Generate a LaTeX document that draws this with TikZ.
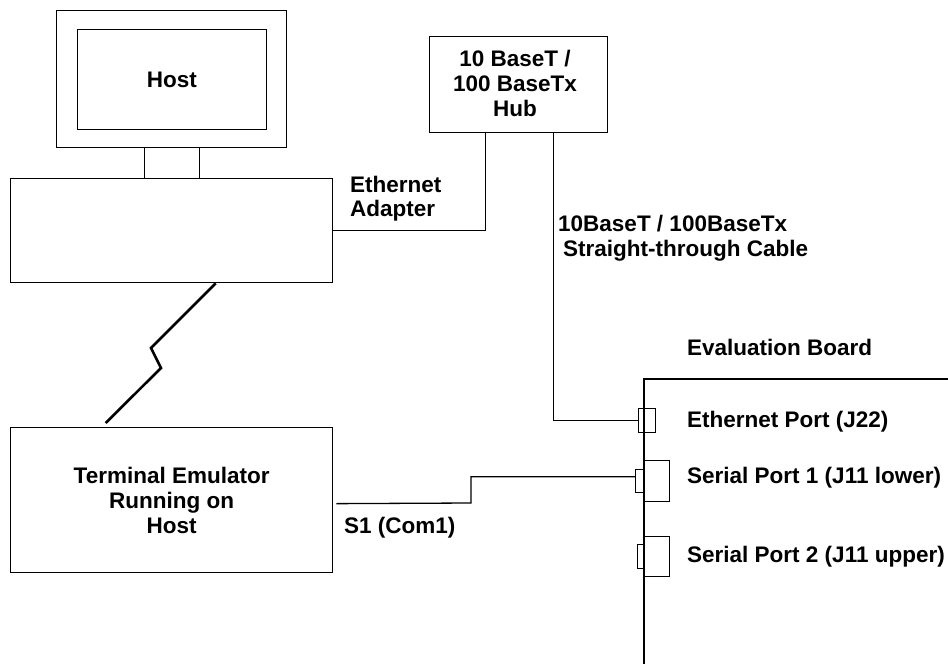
\documentclass[tikz,border=0pt]{standalone}
\usepackage{fontspec}
\setmainfont{Liberation Sans}
\usetikzlibrary{calc}
\begin{document}
\begin{tikzpicture}[x=1pt,y=-1pt,
  lbl/.style={font=\fontsize{22.5}{24}\selectfont\bfseries, inner sep=0pt},
  box/.style={draw, line width=1.3pt, inner sep=0pt, anchor=north west, align=center, font=\fontsize{22.5}{25}\selectfont\bfseries},
  wire/.style={line width=1.3pt},
  bolt/.style={line width=2.6pt, line join=miter}]
\useasboundingbox (0,0) rectangle (948,664);
% host computer
\node[box, minimum width=230pt, minimum height=137pt] (monitor) at (56,10) {};
\node[box, minimum width=189.5pt, minimum height=100pt] (screen) at (76.5,29) {Host};
\node[box, minimum width=55.5pt, minimum height=31pt] (neck) at (143.5,147) {};
\node[box, minimum width=322pt, minimum height=104pt] (base) at (10,178) {};
% hub
\node[box, minimum width=178pt, minimum height=96pt] (hub) at (429,36) {};
\node[lbl, align=center, font=\fontsize{22.5}{25}\selectfont\bfseries] (hubtext) at (515,83) {10 BaseT /\\100 BaseTx\\Hub};
% terminal
\node[box, minimum width=322pt, minimum height=145pt] (term) at (10,427) {Terminal Emulator\\Running on\\Host};
% evaluation board
\coordinate (boardbot) at (644,664);
\coordinate (boardcorner) at (644,379);
\coordinate (boardright) at (948,379);
\draw[wire] (boardbot) -- (boardcorner) -- (boardright);
\node[box, minimum width=17pt, minimum height=24pt] (eport) at (638,408) {};
\node[box, minimum width=25pt, minimum height=41pt] (s1big) at (644,460) {};
\node[box, minimum width=9pt, minimum height=23pt] (s1small) at (635,469) {};
\node[box, minimum width=25pt, minimum height=40pt] (s2big) at (644,536) {};
\node[box, minimum width=7pt, minimum height=24pt] (s2small) at (637,544) {};
% labels (base anchor of a multi-line node = last line's baseline)
\node[lbl, anchor=base west, align=left] (ethadapter) at (350,216) {Ethernet\\Adapter};
\node[lbl, anchor=base west, align=left, font=\fontsize{22.5}{25}\selectfont\bfseries] (cable) at (558,256) {10BaseT / 100BaseTx\\\hspace*{5pt}Straight-through Cable};
\node[lbl, anchor=base west] (evalboard) at (687,355) {Evaluation Board};
\node[lbl, anchor=base west] (ethport) at (687,427) {Ethernet Port (J22)};
\node[lbl, anchor=base west] (ser1) at (687,483) {Serial Port 1 (J11 lower)};
\node[lbl, anchor=base west] (ser2) at (687,562) {Serial Port 2 (J11 upper)};
\node[lbl, anchor=base west] (s1com) at (344,533) {S1 (Com1)};
% connectors
\draw[wire] (base.east) -| ($(hub.south)+(-33,0)$);
\draw[wire] ($(hub.south)+(35,0)$) |- (eport.west);
\coordinate (sbend) at (471,503);
\draw[wire] ($(term.east)+(3,3.5)$) -- (sbend) |- ($(s1small.west)+(0,-4.5)$);
\coordinate (z1) at (151,348);
\coordinate (z2) at (161,368);
\draw[bolt] ($(base.south)+(44,0)$) -- (z1) -- (z2) -- ($(term.north)+(-66,-4)$);
\end{tikzpicture}
\end{document}
